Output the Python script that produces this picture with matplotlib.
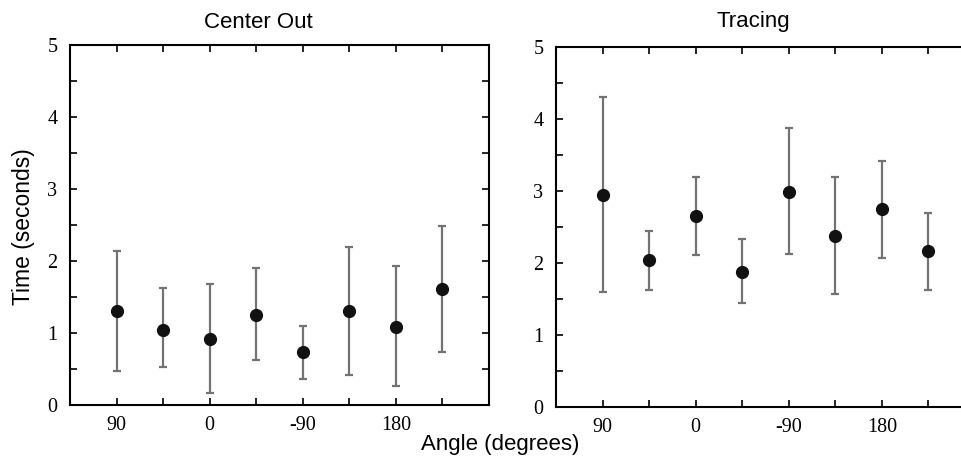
import matplotlib
matplotlib.use("Agg")
import matplotlib.pyplot as plt
from matplotlib.ticker import MultipleLocator, FixedLocator

positions = [1, 2, 3, 4, 5, 6, 7, 8]
tick_positions = [1, 3, 5, 7]
tick_labels = ["90", "0", "-90", "180"]

center_mean = [1.30, 1.04, 0.91, 1.25, 0.73, 1.31, 1.08, 1.61]
center_low = [0.47, 0.53, 0.16, 0.62, 0.36, 0.41, 0.27, 0.73]
center_high = [2.14, 1.62, 1.68, 1.90, 1.10, 2.19, 1.93, 2.49]

tracing_mean = [2.94, 2.04, 2.65, 1.87, 2.99, 2.37, 2.75, 2.16]
tracing_low = [1.60, 1.62, 2.11, 1.44, 2.12, 1.57, 2.07, 1.62]
tracing_high = [4.30, 2.44, 3.19, 2.34, 3.88, 3.19, 3.42, 2.69]

W, H = 962, 461
fig = plt.figure(figsize=(W / 100, H / 100), dpi=100)

serif = ["Liberation Serif", "DejaVu Serif"]
sans = ["Liberation Sans", "DejaVu Sans"]


def panel(rect, mean, low, high, title, title_x, show_right=True):
    ax = fig.add_axes(rect)
    yerr = [[m - l for m, l in zip(mean, low)], [h - m for m, h in zip(mean, high)]]
    ax.errorbar(positions, mean, yerr=yerr, fmt="o", color="#111111", ms=8.5,
                ecolor="#737373", elinewidth=1.6, capsize=3, capthick=1.6, zorder=3)
    ax.set_xlim(0, 9)
    ax.set_ylim(0, 5)
    ax.set_xticks(tick_positions)
    ax.set_xticklabels(tick_labels, fontfamily=serif, fontsize=14.5)
    ax.xaxis.set_minor_locator(FixedLocator([2, 4, 6, 8]))
    ax.yaxis.set_minor_locator(MultipleLocator(0.5))
    ax.set_yticks([0, 1, 2, 3, 4, 5])
    ax.set_yticklabels(["0", "1", "2", "3", "4", "5"], fontfamily=serif, fontsize=14.5)
    ax.tick_params(which="both", direction="in", top=True, right=show_right,
                   width=1.2, color="black", length=5)
    ax.tick_params(axis="x", pad=8)
    ax.tick_params(axis="y", pad=9)
    for s in ax.spines.values():
        s.set_linewidth(1.5)
    if not show_right:
        ax.spines["right"].set_visible(False)
    fig.text(title_x / W, 1 - 22 / H, title, ha="center", va="center",
             fontfamily=sans, fontsize=16)
    return ax


ax1 = panel([70 / W, 1 - 405 / H, 419 / W, 360 / H], center_mean, center_low,
            center_high, "Center Out", 258)
ax2 = panel([556 / W, 1 - 407 / H, 419 / W, 360 / H], tracing_mean, tracing_low,
            tracing_high, "Tracing", 753, show_right=False)

fig.text(24 / W, 1 - 227 / H, "Time (seconds)", rotation=90, ha="center",
         va="center", fontfamily=sans, fontsize=16.5)
fig.text(500 / W, 1 - 444 / H, "Angle (degrees)", ha="center", va="center",
         fontfamily=sans, fontsize=16)

fig.savefig("out.png", dpi=100)
